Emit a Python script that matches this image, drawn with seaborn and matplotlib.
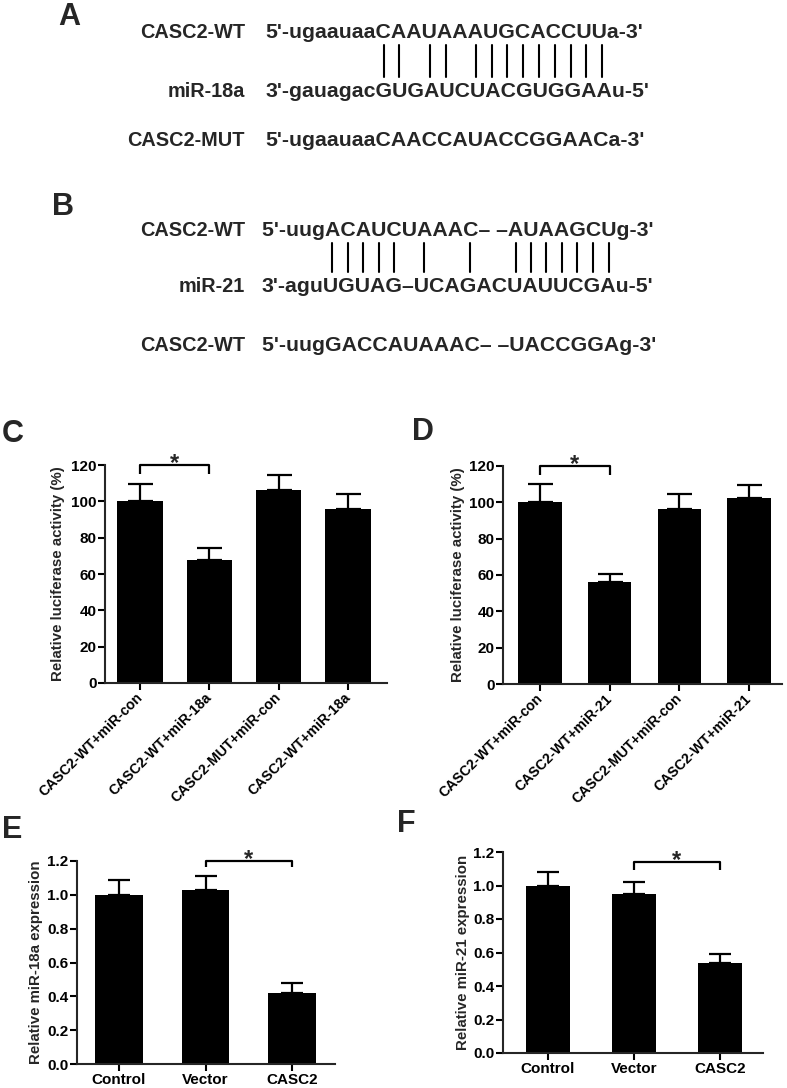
import matplotlib
matplotlib.use("Agg")
import matplotlib.pyplot as plt
import seaborn as sns
import pandas as pd
import numpy as np
from matplotlib.font_manager import FontProperties

# ---------------- data ----------------
c_labels = ["CASC2-WT+miR-con", "CASC2-WT+miR-18a", "CASC2-MUT+miR-con", "CASC2-WT+miR-18a"]
c_values = [100, 67.5, 106, 96]
c_errors = [9.5, 7, 8.5, 8]

d_labels = ["CASC2-WT+miR-con", "CASC2-WT+miR-21", "CASC2-MUT+miR-con", "CASC2-WT+miR-21"]
d_values = [100, 56, 96.5, 102.5]
d_errors = [10, 4.5, 8, 7]

e_labels = ["Control", "Vector", "CASC2"]
e_values = [1.0, 1.03, 0.42]
e_errors = [0.09, 0.08, 0.06]

f_labels = ["Control", "Vector", "CASC2"]
f_values = [1.0, 0.95, 0.54]
f_errors = [0.08, 0.07, 0.05]

cd_yticks = [0, 20, 40, 60, 80, 100, 120]
ef_yticks = [0.0, 0.2, 0.4, 0.6, 0.8, 1.0, 1.2]
c_ylabel = "Relative luciferase activity (%)"
d_ylabel = "Relative luciferase activity (%)"
e_ylabel = "Relative miR-18a expression"
f_ylabel = "Relative miR-21 expression"

# significance brackets: (bar i, bar j, bracket height, tip height)
c_sig = (0, 1, 120, 115)
d_sig = (0, 1, 120, 115)
e_sig = (1, 2, 1.2, 1.165)
f_sig = (1, 2, 1.14, 1.09)

# sequences: (label, 5' flank, aligned core, 3' flank)
a_top = ("CASC2-WT", "5'-ugaauaa", "CAAUAAAUGCACCUU", "a-3'")
a_mir = ("miR-18a", "3'-gauagac", "GUGAUCUACGUGGAA", "u-5'")
a_mut = ("CASC2-MUT", "5'-ugaauaa", "CAACCAUACCGGAAC", "a-3'")
a_pairs = "|| || |||||||||"

b_top = ("CASC2-WT", "5'-uug", "ACAUCUAAAC--AUAAGCU", "g-3'")
b_mir = ("miR-21", "3'-agu", "UGUAG-UCAGACUAUUCGA", "u-5'")
b_mut = ("CASC2-WT", "5'-uug", "GACCAUAAAC--UACCGGA", "g-3'")
b_pairs = "||||| |  |  |||||||"

# ---------------- style ----------------
sns.set_style("ticks")
plt.rcParams["font.family"] = ["Liberation Sans", "DejaVu Sans"]
plt.rcParams["font.weight"] = "bold"
plt.rcParams["axes.labelweight"] = "bold"

W, H = 787, 1088
fig = plt.figure(figsize=(W / 100, H / 100), dpi=100)
renderer = fig.canvas.get_renderer()


def fx(x):
    return x / W


def fy(y):
    return 1 - y / H


LABEL_FS = 14.3
SEQ_FS = 15.3
LETTER_FS = 22
seq_prop = FontProperties(family="Liberation Sans", weight="bold", size=SEQ_FS)


def tokens_of(core):
    toks = []
    for k, ch in enumerate(core):
        if ch == "-":
            toks.append(" \u2013" if k > 0 and core[k - 1] == "-" else "\u2013")
        else:
            toks.append(ch)
    return toks


def text_w(s):
    if not s:
        return 0.0
    w, h, d = renderer.get_text_width_height_descent(s, seq_prop, ismath=False)
    return w


def draw_row(row, x_label, x_seq, y_base):
    label, p5, core, p3 = row
    fig.text(fx(x_label), fy(y_base), label, ha="right", va="baseline",
             fontsize=LABEL_FS, fontweight="bold")
    toks = tokens_of(core)
    s = p5 + "".join(toks) + p3
    fig.text(fx(x_seq), fy(y_base), s, ha="left", va="baseline",
             fontsize=SEQ_FS, fontweight="bold")
    centers = []
    acc = p5
    for t in toks:
        a = text_w(acc)
        b = text_w(acc + t)
        centers.append(x_seq + (a + b) / 2)
        acc += t
    return centers


def draw_duplex(letter, letter_xy, top, mir, mut, pairs, x_label, x_seq,
                y_top, y_mir, y_mut, line_y0, line_y1):
    fig.text(fx(letter_xy[0]), fy(letter_xy[1]), letter, ha="left", va="baseline",
             fontsize=LETTER_FS, fontweight="bold")
    c1 = draw_row(top, x_label, x_seq, y_top)
    c2 = draw_row(mir, x_label, x_seq, y_mir)
    draw_row(mut, x_label, x_seq, y_mut)
    for k, p in enumerate(pairs):
        if p == "|":
            x = (c1[k] + c2[k]) / 2
            fig.add_artist(plt.Line2D([fx(x), fx(x)], [fy(line_y0), fy(line_y1)],
                                      color="black", lw=1.5,
                                      transform=fig.transFigure))


draw_duplex("A", (58, 25), a_top, a_mir, a_mut, a_pairs, 245, 265,
            38, 97, 146, 45, 77)
draw_duplex("B", (52, 215), b_top, b_mir, b_mut, b_pairs, 245, 262,
            236, 292, 351, 243, 272)


def bar_panel(rect_px, labels, values, errors, yticks, ylabel, fmt, xlim, sig,
              capsize, width, rotated, ylabel_x, letter, letter_xy):
    x0, x1, ytop, ybot = rect_px
    ax = fig.add_axes([fx(x0), fy(ybot), (x1 - x0) / W, (ybot - ytop) / H])
    n = len(values)
    df = pd.DataFrame({"pos": list(range(n)), "value": values})
    sns.barplot(data=df, x="pos", y="value", color="black", saturation=1,
                width=width, errorbar=None, ax=ax, edgecolor="black", linewidth=0)
    ax.errorbar(df["pos"], values, yerr=[np.zeros(n), errors], fmt="none",
                ecolor="black", elinewidth=1.6, capsize=capsize, capthick=1.6,
                clip_on=False)
    ax.set_xlim(*xlim)
    ax.set_ylim(yticks[0], yticks[-1])
    ax.set_yticks(yticks)
    ax.set_yticklabels([fmt.format(t) for t in yticks], fontsize=11, fontweight="bold")
    ax.set_xticks(range(n))
    if rotated:
        ax.set_xticklabels(labels, rotation=45, ha="right", va="center",
                           rotation_mode="anchor", fontsize=10.2, fontweight="bold")
        ax.tick_params(axis="x", pad=4)
    else:
        ax.set_xticklabels(labels, fontsize=11, fontweight="bold")
        ax.tick_params(axis="x", pad=1.5)
    ax.set_xlabel("")
    ax.set_ylabel(ylabel, fontsize=10.8, fontweight="bold")
    ax.yaxis.set_label_coords(ylabel_x, 0.5)
    sns.despine(ax=ax)
    for sp in ("left", "bottom"):
        ax.spines[sp].set_linewidth(1.5)
    ax.tick_params(axis="both", direction="out", length=5, width=1.5, colors="black")
    ax.tick_params(axis="y", pad=1)
    ax.set_facecolor("white")
    i, j, h, tip = sig
    ax.plot([i, i, j, j], [tip, h, h, tip], color="black", lw=1.6, clip_on=False,
            solid_capstyle="butt")
    ax.annotate("*", xy=((i + j) / 2, h), xytext=(0, -5), textcoords="offset pixels",
                ha="center", va="baseline", fontsize=17, fontweight="bold",
                annotation_clip=False)
    fig.text(fx(letter_xy[0]), fy(letter_xy[1]), letter, ha="left", va="baseline",
             fontsize=LETTER_FS, fontweight="bold")
    return ax


bar_panel((105, 387, 465, 683), c_labels, c_values, c_errors, cd_yticks, c_ylabel,
          "{:.0f}", (-0.505, 3.562), c_sig, 9, 0.65, True, -0.142, "C", (2, 442))
bar_panel((503, 782, 466, 684), d_labels, d_values, d_errors, cd_yticks, d_ylabel,
          "{:.0f}", (-0.531, 3.474), d_sig, 9, 0.62, True, -0.136, "D", (412, 440))
bar_panel((77, 335, 861, 1064), e_labels, e_values, e_errors, ef_yticks, e_ylabel,
          "{:.1f}", (-0.486, 2.497), e_sig, 8, 0.55, False, -0.132, "E", (2, 838))
bar_panel((503, 763, 852, 1053), f_labels, f_values, f_errors, ef_yticks, f_ylabel,
          "{:.1f}", (-0.523, 2.5), f_sig, 8, 0.52, False, -0.127, "F", (397, 832))

fig.savefig("out.png", dpi=100, facecolor="white")
